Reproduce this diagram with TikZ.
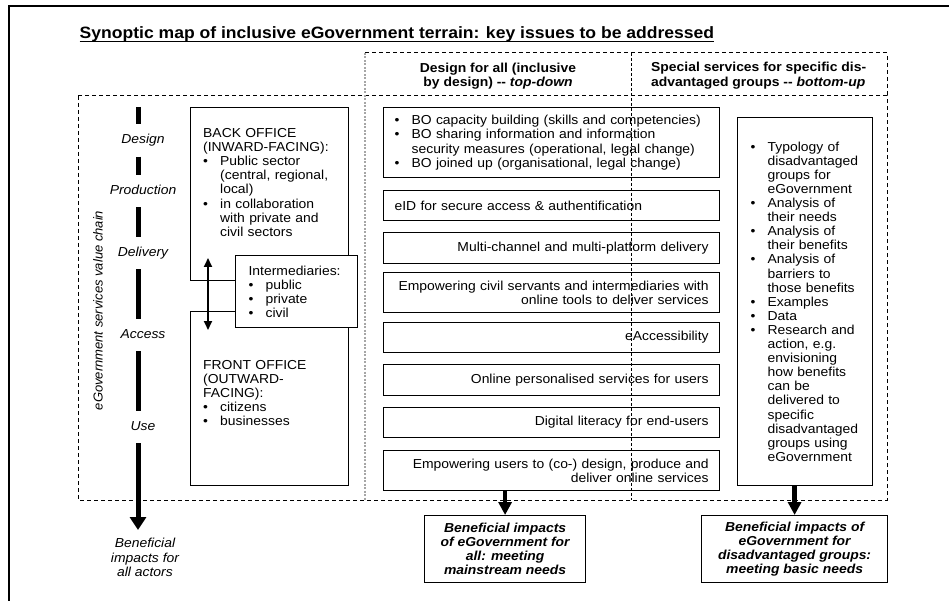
\documentclass[tikz,border=0pt]{standalone}
\usepackage{fontspec}
\setmainfont{Liberation Sans}[FakeStretch=1.07]
\newfontfamily\flatsans{Liberation Sans}
\usetikzlibrary{arrows.meta}

\newcommand{\mapfont}{\fontsize{13}{14.1}\selectfont}
\newcommand{\bl}{\makebox[17pt][l]{\textbullet}}
\newcommand{\ind}{\hspace*{17pt}}

\begin{document}
\begin{tikzpicture}[x=1pt, y=-1pt, font=\mapfont]
    \tikzstyle{box}=[draw, line width=1.2pt, anchor=north west, inner sep=0pt, inner xsep=13pt, font=\mapfont]
    \tikzstyle{issue}=[box, inner xsep=11pt, minimum width=336pt, text width=314pt, align=right]
    \tikzstyle{outcome}=[box, minimum height=67pt, align=center, font=\mapfont\bfseries\itshape]
    \tikzstyle{office}=[anchor=north west, inner sep=0pt, text width=140pt, align=left, font=\mapfont]
    \tikzstyle{stage}=[font=\mapfont\itshape, inner sep=0pt, minimum height=32pt, text height=9.4pt, text depth=2.7pt]
    \tikzstyle{chain}=[line width=5pt]
    \tikzstyle{impact}=[line width=4.5pt, -{Triangle[width=13pt,length=13pt]}]
    \tikzstyle{frame}=[line width=1pt, dash pattern=on 4pt off 3pt]
    \useasboundingbox (0,0) rectangle (949,601);

    % page border
    \draw[line width=1.5pt] (9,601) -- (9,6) -- (949,6);

    % title
    \node[anchor=base west, inner sep=0pt, font=\fontsize{16.4}{18}\selectfont\bfseries] (title) at (79.5,39)
        {Synoptic map of inclusive eGovernment terrain: key issues to be addressed};
    \draw[line width=1pt] ([yshift=-2.5pt]title.base west) -- ([yshift=-2.5pt]title.base east);

    % dashed frame and columns
    \draw[frame] (78,96) rectangle (887,500);
    \draw[frame] (365,53) -- (887,53) -- (887,96);
    \draw[gray!70, line width=1.2pt, dash pattern=on 2pt off 1.5pt] (365,53) -- (365,500);
    \draw[line width=0.9pt, dash pattern=on 3pt off 2pt] (631,53) -- (631,500);

    \node[align=center, font=\mapfont\bfseries] (allhead) at (498,75.8)
        {Design for all (inclusive\\ by design) -{}- \textit{top-down}};
    \node[anchor=north west, inner sep=0pt, align=left, font=\mapfont\bfseries] (grouphead) at (651,62.3)
        {Special services for specific dis-\\ advantaged groups -{}- \textit{bottom-up}};

    % value chain
    \node[rotate=90, font=\mapfont\flatsans\itshape] (chainlabel) at (98,310.5) {eGovernment services value chain};
    \node[stage] (design) at (143,140.5) {Design};
    \node[stage] (production) at (143,191) {Production};
    \node[stage] (delivery) at (143,253) {Delivery};
    \node[stage] (access) at (143,335) {Access};
    \node[stage] (use) at (143,427) {Use};
    \node[anchor=north, inner sep=0pt, align=center, font=\mapfont\itshape] (actors) at (145,538.3)
        {Beneficial\\ impacts for\\ all actors};
    \coordinate (chain top) at (138,107);
    \coordinate (chain end) at (138,530);
    \draw[chain] (chain top) -- (chain top |- design.north);
    \foreach \a/\b in {design/production, production/delivery, delivery/access, access/use}
        \draw[chain] (chain top |- \a.south) -- (chain top |- \b.north);
    \draw[chain, -{Triangle[width=16pt,length=13pt]}] (chain top |- use.south) -- (chain end);

    % back and front office
    \node[box, minimum width=158pt, minimum height=173pt] (back) at (190,107) {};
    \node[box, minimum width=158pt, minimum height=174pt] (front) at (190,311) {};
    \node[office] (backtext) at (203,128.3)
        {BACK OFFICE\\ (INWARD-FACING):\\ \bl Public sector\\ \ind (central, regional,\\ \ind local)\\
         \bl in collaboration\\ \ind with private and\\ \ind civil sectors};
    \node[office] (fronttext) at (203,360.3)
        {FRONT OFFICE\\ (OUTWARD-\\ FACING):\\ \bl citizens\\ \bl businesses};
    \node[box, fill=white, minimum width=122pt, minimum height=72pt, text width=96pt, align=left] (inter) at (235,255)
        {Intermediaries:\\ \bl public\\ \bl private\\ \bl civil};
    \coordinate (link top) at (208,258);
    \coordinate (link bottom) at (208,330);
    \draw[line width=2pt, {Triangle[width=8pt,length=9pt]}-{Triangle[width=8pt,length=9pt]}] (link top) -- (link bottom);

    % design for all
    \node[issue, minimum height=70pt, align=left] (bo) at (383,107)
        {\bl BO capacity building (skills and competencies)\\ \bl BO sharing information and information\\
         \ind security measures (operational, legal change)\\ \bl BO joined up (organisational, legal change)};
    \node[issue, minimum height=30pt, align=left] (eid) at (383,190) {eID for secure access \& authentification};
    \node[issue, minimum height=31pt] (multi) at (383,232) {Multi-channel and multi-platform delivery};
    \node[issue, minimum height=40pt] (civil) at (383,272)
        {Empowering civil servants and intermediaries with\\ online tools to deliver services};
    \node[issue, minimum height=30pt] (eacc) at (383,322) {eAccessibility};
    \node[issue, minimum height=31pt] (online) at (383,364) {Online personalised services for users};
    \node[issue, minimum height=30pt] (literacy) at (383,407) {Digital literacy for end-users};
    \node[issue, minimum height=40pt] (users) at (383,450)
        {Empowering users to (co-) design, produce and\\ deliver online services};

    % special services
    \node[box, minimum width=135pt, minimum height=368pt, text width=109pt, align=left] (groups) at (737,117)
        {\bl Typology of\\ \ind disadvantaged\\ \ind groups for\\ \ind eGovernment\\
         \bl Analysis of\\ \ind their needs\\ \bl Analysis of\\ \ind their benefits\\
         \bl Analysis of\\ \ind barriers to\\ \ind those benefits\\ \bl Examples\\ \bl Data\\
         \bl Research and\\ \ind action, e.g.\\ \ind envisioning\\ \ind how benefits\\ \ind can be\\
         \ind delivered to\\ \ind specific\\ \ind disadvantaged\\ \ind groups using\\ \ind eGovernment};

    % impacts
    \node[outcome, minimum width=161pt] (allimp) at (424,515)
        {Beneficial impacts\\ of eGovernment for\\ all: meeting\\ mainstream needs};
    \node[outcome, minimum width=186pt] (disimp) at (701,515)
        {Beneficial impacts of\\ eGovernment for\\ disadvantaged groups:\\ meeting basic needs};
    \draw[impact] (users.south -| allimp.north) -- (allimp.north);
    \draw[impact] (groups.south -| disimp.north) -- (disimp.north);
\end{tikzpicture}
\end{document}
